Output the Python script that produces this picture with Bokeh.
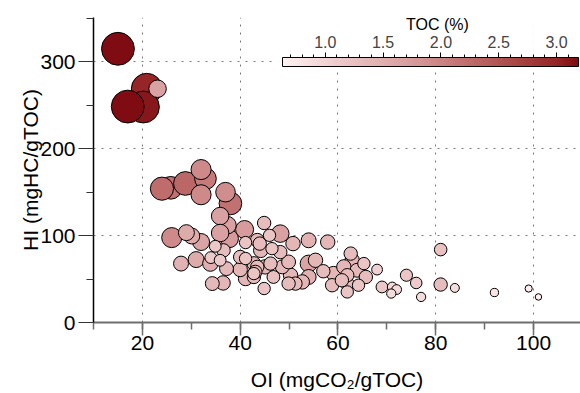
import numpy as np
from bokeh.plotting import figure
from bokeh.models import (ColorBar, LinearColorMapper, SingleIntervalTicker,
                          FixedTicker, ColumnDataSource, PrintfTickFormatter, Label)
from bokeh.embed import file_html
from bokeh.resources import INLINE

# ---- data (drawing order) ----
oi = [20.9, 20.2, 17.0, 23.1, 15.0,
      25.8, 24.0, 28.8, 38.0, 32.9, 32.0, 32.0, 26.0, 37.0, 40.9, 37.8, 37.4, 35.9, 35.9,
      48.2, 32.0, 54.0, 30.1, 29.0, 31.0, 33.9, 27.9, 54.0, 54.0,
      50.8, 57.9, 44.2, 41.1, 36.5, 40.0, 45.1, 50.3, 52.7, 55.4, 59.1, 62.9, 61.2,
      43.5, 37.2, 42.8, 34.3, 48.6, 49.9, 63.9,
      44.9, 44.0, 48.2, 36.6, 40.0, 42.8, 43.5, 46.2, 43.1, 51.3, 49.9, 57.0, 58.8,
      61.9, 62.6, 61.9, 65.7, 60.8, 81.0, 46.8, 81.0,
      46.0, 41.1, 46.5, 41.1, 42.8, 44.9, 65.3, 61.9, 64.2, 74.0,
      34.9, 34.0, 35.9, 69.0, 76.0, 68.0, 71.1, 72.0, 77.0, 70.9, 83.9, 92.0, 99.0, 101.0]
hi = [269, 248, 248.5, 269, 315,
      155, 154, 160, 137, 165.5, 176, 147, 97.7, 150, 107, 96.5, 112, 122.5, 103,
      102.3, 92.6, 67.8, 99.5, 103.4, 72.4, 67.8, 67.8, 94.6, 52.4,
      90.8, 92.6, 83, 50.6, 45.5, 61, 64, 54.4, 46.7, 71.6, 56.3, 71.6, 64,
      94.6, 62, 67.8, 44.8, 64, 69.7, 60.1,
      114.5, 90.8, 81, 83, 75.4, 52.4, 64, 67.8, 58.2, 44.8, 44.8, 59, 42.9,
      44.8, 79.3, 54.4, 52.4, 48.6, 43.7, 52.4, 83.9,
      100.3, 92, 85, 73.6, 56.3, 39.1, 67.8, 35.2, 42.9, 54.4,
      87.7, 74.7, 71.6, 40.9, 45.5, 60.9, 40.9, 37.9, 29.4, 33.3, 39.8, 34.5, 39.1, 29.4]
toc = [3.0, 3.1, 3.19, 1.7, 3.19,
       2.2, 2.25, 2.3, 2.2, 2.1, 1.95, 1.95, 1.95, 1.9, 1.75, 1.75, 1.7, 1.7, 1.7,
       1.7, 1.65, 1.65, 1.55, 1.55, 1.55, 1.5, 1.45, 1.45, 1.45,
       1.4, 1.4, 1.4, 1.4, 1.4, 1.4, 1.4, 1.4, 1.4, 1.4, 1.4, 1.4, 1.4,
       1.35, 1.35, 1.35, 1.35, 1.35, 1.35, 1.35,
       1.3, 1.3, 1.3, 1.3, 1.3, 1.3, 1.3, 1.3, 1.3, 1.3, 1.3, 1.3, 1.3,
       1.3, 1.3, 1.3, 1.3, 1.3, 1.3, 1.25, 1.22,
       1.2, 1.2, 1.2, 1.2, 1.2, 1.2, 1.2, 1.2, 1.2, 1.18,
       1.15, 1.15, 1.15, 1.15, 1.12, 1.05, 0.95, 0.95, 0.9, 0.9, 0.87, 0.8, 0.7, 0.63]

toc_major_ticks = [1.0, 1.5, 2.0, 2.5, 3.0]
toc_all_ticks = [0.7, 0.8, 0.9, 1.0, 1.1, 1.2, 1.3, 1.4, 1.5, 1.6, 1.7, 1.8, 1.9,
                 2.0, 2.1, 2.2, 2.3, 2.4, 2.5, 2.6, 2.7, 2.8, 2.9, 3.0, 3.1]

# ---- palette ----
stops = [(0.0, "#FFF2F2"), (0.22, "#EBC4C4"), (0.42, "#D9A0A0"), (0.61, "#C27272"),
         (0.80, "#A84444"), (0.93, "#952526"), (1.0, "#7E0C12")]
def hex2rgb(h):
    return [int(h[i:i + 2], 16) for i in (1, 3, 5)]
pos = np.array([s[0] for s in stops])
rgb = np.array([hex2rgb(s[1]) for s in stops], dtype=float)
t = np.linspace(0, 1, 256)
palette = ["#%02x%02x%02x" % tuple(int(round(np.interp(v, pos, rgb[:, k]))) for k in range(3)) for v in t]

mapper = LinearColorMapper(palette=palette, low=min(toc), high=max(toc))

src = ColumnDataSource(dict(x=oi, y=hi, toc=toc, size=[10.3 * v for v in toc]))

FONT = "Liberation Sans"
p = figure(width=580, height=393, x_range=(10, 109.6), y_range=(0, 351),
           output_backend="svg", toolbar_location=None,
           min_border_left=93, min_border_right=0, min_border_top=17, min_border_bottom=71)
p.outline_line_color = None
p.background_fill_color = "white"

p.scatter("x", "y", source=src, size="size",
          fill_color={"field": "toc", "transform": mapper},
          line_color="black", line_width=1)

# axes
p.xaxis.ticker = SingleIntervalTicker(interval=20, num_minor_ticks=2)
p.yaxis.ticker = SingleIntervalTicker(interval=100, num_minor_ticks=2)
for ax in (p.xaxis[0], p.yaxis[0]):
    ax.major_label_text_font = FONT
    ax.major_label_text_font_size = "21px"
    ax.major_label_text_color = "black"
    ax.axis_label_text_font = FONT
    ax.axis_label_text_font_size = "21px"
    ax.axis_label_text_font_style = "normal"
    ax.axis_label_text_color = "black"
    ax.major_tick_in = 0
    ax.minor_tick_in = 0
    ax.minor_tick_out = 7

p.xaxis.axis_label = "OI (mgCO\u2082/gTOC)"
p.xaxis.axis_line_color = "#6e6e6e"
p.xaxis.axis_line_width = 2
p.xaxis.major_tick_line_color = "#6e6e6e"
p.xaxis.minor_tick_line_color = "#6e6e6e"
p.xaxis.major_tick_line_width = 1.5
p.xaxis.minor_tick_line_width = 1.5
p.xaxis.major_tick_out = 13
p.xaxis.major_label_standoff = 0
p.xaxis.axis_label_standoff = 15

p.yaxis.axis_label = "HI (mgHC/gTOC)"
p.yaxis.axis_line_color = "black"
p.yaxis.axis_line_width = 1.5
p.yaxis.major_tick_line_color = "#333333"
p.yaxis.minor_tick_line_color = "#333333"
p.yaxis.major_tick_out = 15
p.yaxis.major_label_standoff = 3
p.yaxis.axis_label_standoff = -5

for g in (p.xgrid[0], p.ygrid[0]):
    g.grid_line_color = "#7a7a7a"
    g.grid_line_dash = "2 6"
    g.grid_line_width = 1

# white backing panel of the legend + short tick marks (0.1 steps)
cb_bg = ColorBar(color_mapper=mapper, orientation="horizontal", location=(182, 258),
                 width=296, height=40, padding=7, margin=0, scale_alpha=0,
                 ticker=FixedTicker(ticks=[], minor_ticks=toc_all_ticks),
                 major_tick_line_color=None, minor_tick_in=3, minor_tick_out=0,
                 minor_tick_line_color="black",
                 bar_line_color=None, border_line_color=None,
                 background_fill_color="white")
p.add_layout(cb_bg, "center")

# longer tick marks at the labelled values
cb_tk = ColorBar(color_mapper=mapper, orientation="horizontal", location=(189, 265),
                 width=296, height=5, padding=0, margin=0, scale_alpha=0,
                 ticker=FixedTicker(ticks=[], minor_ticks=toc_major_ticks),
                 major_tick_line_color=None, minor_tick_in=5, minor_tick_out=0,
                 minor_tick_line_color="black",
                 bar_line_color=None, border_line_color=None, background_fill_alpha=0)
p.add_layout(cb_tk, "center")

# the colour bar itself with its labels above
cb = ColorBar(color_mapper=mapper, orientation="horizontal", location=(189, 256),
              width=296, height=9, padding=0, margin=0,
              ticker=FixedTicker(ticks=toc_major_ticks),
              formatter=PrintfTickFormatter(format="%.1f"),
              major_label_text_font=FONT, major_label_text_font_size="16px",
              label_standoff=-31,
              major_tick_line_color=None, minor_tick_line_color=None,
              bar_line_color="black", bar_line_width=1,
              border_line_color=None, background_fill_alpha=0)
p.add_layout(cb, "center")

p.add_layout(Label(x=344, y=298, x_units="screen", y_units="screen", text="TOC (%)",
                   text_font=FONT, text_font_size="16px", text_align="center",
                   text_baseline="middle", text_color="black"))

open("out.html", "w").write(file_html(p, INLINE))
